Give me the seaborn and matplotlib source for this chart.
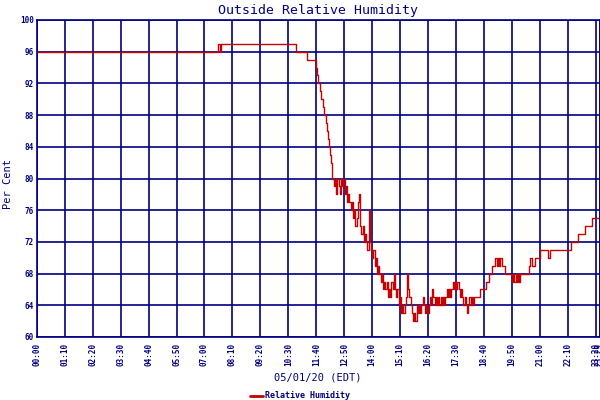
import matplotlib
matplotlib.use("Agg")
import matplotlib.pyplot as plt
import pandas as pd
import seaborn as sns

sns.set_style("white")
plt.rcParams['font.family'] = ['DejaVu Sans Mono', 'DejaVu Sans']

# readings (step changes), local time 05/01/20
times = ["00:00", "07:34", "07:38", "07:42", "10:50", "11:16", "11:38", "11:42", "11:45", "11:48",
         "11:52", "11:56", "12:00", "12:03", "12:06", "12:09", "12:12", "12:14", "12:16", "12:18",
         "12:20", "12:24", "12:27", "12:30", "12:33", "12:36", "12:39", "12:42", "12:45", "12:48",
         "12:51", "12:54", "12:57", "13:00", "13:03", "13:06", "13:09", "13:12", "13:15", "13:18",
         "13:21", "13:24", "13:27", "13:30", "13:33", "13:36", "13:39", "13:42", "13:45", "13:48",
         "13:51", "13:54", "13:57", "14:00", "14:03", "14:06", "14:09", "14:12", "14:15", "14:18",
         "14:21", "14:24", "14:27", "14:30", "14:33", "14:36", "14:39", "14:42", "14:45", "14:48",
         "14:51", "14:54", "14:57", "15:00", "15:03", "15:06", "15:09", "15:12", "15:15", "15:18",
         "15:21", "15:24", "15:27", "15:30", "15:33", "15:36", "15:39", "15:42", "15:45", "15:48",
         "15:51", "15:54", "15:57", "16:00", "16:03", "16:06", "16:09", "16:12", "16:15", "16:18",
         "16:21", "16:24", "16:27", "16:30", "16:33", "16:36", "16:39", "16:42", "16:45", "16:48",
         "16:51", "16:54", "16:57", "17:00", "17:03", "17:06", "17:09", "17:12", "17:15", "17:18",
         "17:21", "17:24", "17:27", "17:30", "17:33", "17:36", "17:39", "17:42", "17:45", "17:48",
         "17:51", "17:54", "17:57", "18:00", "18:03", "18:06", "18:09", "18:12", "18:15", "18:30",
         "18:45", "18:53", "19:01", "19:08", "19:12", "19:14", "19:17", "19:20", "19:26", "19:33",
         "19:50", "19:53", "19:56", "19:59", "20:02", "20:05", "20:08", "20:11", "20:32", "20:36",
         "20:40", "20:48", "21:01", "21:21", "21:24", "22:17", "22:36", "22:53", "23:11", "23:29"]
rh = [96, 97, 96, 97, 96, 95, 94, 93, 92, 91,
      90, 89, 88, 87, 86, 85, 84, 83, 82, 81,
      80, 79, 80, 78, 80, 79, 78, 80, 79, 80,
      78, 79, 77, 78, 77, 76, 77, 75, 76, 74,
      75, 77, 78, 74, 73, 74, 72, 73, 72, 71,
      76, 72, 71, 70, 71, 69, 70, 68, 69, 68,
      67, 68, 66, 67, 66, 67, 65, 66, 65, 67,
      66, 68, 66, 65, 66, 64, 65, 63, 64, 63,
      64, 65, 68, 66, 65, 64, 63, 62, 63, 62,
      64, 63, 64, 63, 64, 65, 64, 63, 64, 63,
      64, 65, 64, 66, 65, 64, 65, 64, 65, 64,
      65, 64, 65, 64, 65, 66, 65, 66, 65, 66,
      67, 66, 67, 66, 67, 66, 65, 66, 65, 64,
      65, 64, 63, 64, 65, 64, 65, 64, 65, 66,
      67, 68, 69, 70, 69, 70, 69, 70, 69, 68,
      67, 68, 67, 68, 67, 68, 67, 68, 69, 70,
      69, 70, 71, 70, 71, 72, 73, 74, 75, 75]

tick_labels = ["00:00", "01:10", "02:20", "03:30", "04:40", "05:50", "07:00", "08:10",
               "09:20", "10:30", "11:40", "12:50", "14:00", "15:10", "16:20", "17:30",
               "18:40", "19:50", "21:00", "22:10", "23:20", "23:29"]
y_ticks = [60, 64, 68, 72, 76, 80, 84, 88, 92, 96, 100]


def to_min(s):
    h, m = s.split(":")
    return int(h) * 60 + int(m)


NAVY = '#000080'
RED = '#c80000'

df = pd.DataFrame({'minute': [to_min(t) for t in times], 'rh': rh})

fig = plt.figure(figsize=(6, 4), dpi=100)
ax = fig.add_axes([0.0612, 0.1575, 0.9380, 0.7925])

sns.lineplot(data=df, x='minute', y='rh', ax=ax, color=RED, lw=1.0,
             drawstyle='steps-post', estimator=None, legend=False)

ax.set_xlim(0, to_min(tick_labels[-1]))
ax.set_ylim(60, 100)
ax.set_xticks([to_min(t) for t in tick_labels])
ax.set_xticklabels(tick_labels, rotation=90)
ax.set_yticks(y_ticks)
ax.set_yticklabels([str(v) for v in y_ticks])
ax.tick_params(length=0, labelsize=5.5, colors=NAVY)
ax.tick_params(axis='x', pad=4)
ax.tick_params(axis='y', pad=2)
for lab in ax.get_xticklabels() + ax.get_yticklabels():
    lab.set_fontweight('bold')

ax.set_axisbelow(True)
ax.grid(True, color=NAVY, lw=1.2)
for sp in ax.spines.values():
    sp.set_color(NAVY)
    sp.set_linewidth(1.2)

ax.set_xlabel('')
ax.set_ylabel('')
ax.set_title('Outside Relative Humidity', color=NAVY, fontsize=9.5, pad=4)
fig.text(0.53, 0.055, '05/01/20 (EDT)', color=NAVY, fontsize=7.5, ha='center', va='center')
fig.text(0.014, 0.54, 'Per Cent', color=NAVY, fontsize=7.5, ha='center', va='center', rotation=90)

handle = plt.Line2D([], [], color=RED, lw=2)
fig.legend([handle], ['Relative Humidity'], loc='lower center', bbox_to_anchor=(0.5, -0.02),
           frameon=False, handlelength=1.6, handletextpad=0.3, labelcolor=NAVY,
           prop={'size': 6, 'weight': 'bold'})

fig.savefig('out.png', dpi=100)
